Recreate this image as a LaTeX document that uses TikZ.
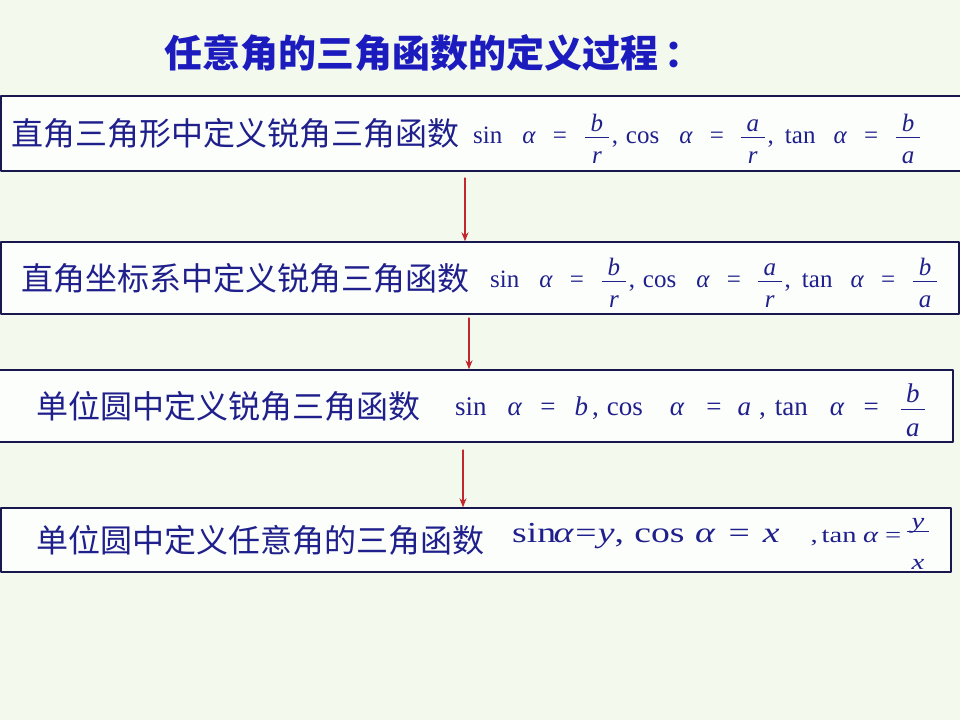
\documentclass[tikz,border=0pt]{standalone}
\usepackage{graphicx}
\usepackage{fontspec}
\setmainfont{Liberation Serif}
\newfontfamily\cjk{Noto Sans CJK SC}
\usetikzlibrary{arrows.meta,positioning}
\definecolor{bggreen}{HTML}{F4F9EE}
\definecolor{boxfill}{HTML}{FCFEFB}
\definecolor{ink}{HTML}{20208C}
\definecolor{titleblue}{HTML}{1C1CBE}
\definecolor{rim}{HTML}{18184E}
\definecolor{arrred}{HTML}{C0282D}
% width, numerator up, bar up, denominator down, numerator, denominator
\newcommand{\frc}[6]{\makebox[#1][l]{\makebox[0pt][l]{\raisebox{#2}{\makebox[#1]{\itshape #5}}}\makebox[0pt][l]{\rule[#3]{#1}{0.9pt}}\raisebox{-#4}{\makebox[#1]{\itshape #6}}}}
\newcommand{\fr}[2]{\frc{.95em}{.46em}{.2em}{.8em}{#1}{#2}}
\newcommand{\al}{\textit{α}}

\begin{document}
\begin{tikzpicture}[x=1pt,y=-1pt,line cap=round,line join=round,
  stepbox/.style={draw=rim,line width=1.4pt,fill=boxfill,inner sep=0pt},
  zh/.style={anchor=west,text=ink,inner sep=0pt,font=\cjk\fontsize{32}{35}\selectfont},
  fm/.style={anchor=base west,text=ink,inner sep=0pt,font=\fontsize{25}{28}\selectfont},
  arr/.style={draw=arrred,line width=1.1pt,-{Stealth[length=9pt,width=7pt]}}]
\fill[bggreen] (0,0) rectangle (960,720);
\useasboundingbox (0,0) rectangle (960,720);
\node[anchor=west,text=titleblue,inner sep=0pt,font=\cjk\bfseries\fontsize{38}{41}\selectfont] (title) at (164,53) {任意角的三角函数的定义过程\hspace{6pt}：};
\node[stepbox,minimum width=960pt,minimum height=75pt] (b1) at (481,133.5) {};
\node[stepbox,minimum width=958pt,minimum height=72pt] (b2) at (480,278) {};
\node[stepbox,minimum width=955pt,minimum height=72pt] (b3) at (475.5,406) {};
\node[stepbox,minimum width=950pt,minimum height=64pt] (b4) at (476,540) {};
\node[zh,right=11pt of b1.west] (t1) {直角三角形中定义锐角三角函数};
\node[zh,right=21pt of b2.west] (t2) {直角坐标系中定义锐角三角函数};
\node[zh,right=39pt of b3.west] (t3) {单位圆中定义锐角三角函数};
\node[zh,right=36pt of b4.west] (t4) {单位圆中定义任意角的三角函数};
\node[fm] (f1) at (473,143) {sin\hspace{20pt}\al\hspace{17pt}=\hspace{18pt}\fr{b}{r}\hspace{3pt},\hspace{8pt}cos\hspace{20pt}\al\hspace{17pt}=\hspace{17pt}\fr{a}{r}\hspace{3pt},\hspace{11pt}tan\hspace{18pt}\al\hspace{17pt}=\hspace{18pt}\fr{b}{a}};
\node[fm] (f2) at (490,287) {sin\hspace{20pt}\al\hspace{17pt}=\hspace{18pt}\fr{b}{r}\hspace{3pt},\hspace{8pt}cos\hspace{20pt}\al\hspace{17pt}=\hspace{17pt}\fr{a}{r}\hspace{3pt},\hspace{11pt}tan\hspace{18pt}\al\hspace{17pt}=\hspace{18pt}\fr{b}{a}};
\node[fm,font=\fontsize{27}{30}\selectfont] (f3) at (455,415) {sin\hspace{21pt}\al\hspace{18pt}=\hspace{19pt}\textit{b}\hspace{4pt},\hspace{8pt}cos\hspace{27pt}\al\hspace{22pt}=\hspace{16pt}\textit{a}\hspace{8pt},\hspace{9pt}tan\hspace{22pt}\al\hspace{19pt}=\hspace{22pt}\frc{.9em}{.46em}{.2em}{.8em}{b}{a}};
\node[fm,font=\fontsize{29}{32}\selectfont] (f4) at (512,542) {\scalebox{1.3}[1]{sin\hspace{-2pt}\al\hspace{1pt}=\hspace{1pt}\textit{y},\hspace{8pt}cos\hspace{8pt}\al\hspace{10pt}=\hspace{10pt}\textit{x}\hspace{24pt}{\fontsize{22}{24}\selectfont,\hspace{3pt}tan\hspace{5pt}\al\hspace{5pt}=\hspace{4pt}\frc{.8em}{.62em}{.45em}{1.23em}{y}{x}}}};
\coordinate (a1) at (465,178);
\coordinate (a2) at (469,318);
\coordinate (a3) at (463,450);
\draw[arr] (a1) -- (a1 |- b2.north);
\draw[arr] (a2) -- (a2 |- b3.north);
\draw[arr] (a3) -- (a3 |- b4.north);
\end{tikzpicture}
\end{document}
